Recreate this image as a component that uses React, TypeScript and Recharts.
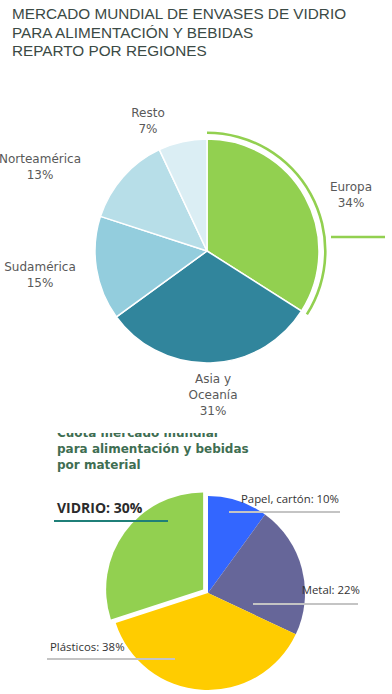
import React from 'react';
import { PieChart, Pie, Cell } from 'recharts';

// ---- Data ----
const regionNames = ['Europa', 'Asia y Oceanía', 'Sudamérica', 'Norteamérica', 'Resto'];
const regionShares = [34, 31, 15, 13, 7];

const materialNames = ['Papel, cartón', 'Metal', 'Plásticos', 'Vidrio'];
const materialShares = [10, 22, 38, 30];

const titleLines = [
  'MERCADO MUNDIAL DE ENVASES DE VIDRIO',
  'PARA ALIMENTACIÓN Y BEBIDAS',
  'REPARTO POR REGIONES',
];
const subtitleLines = ['Cuota mercado mundial', 'para alimentación y bebidas', 'por material'];

// ---- Styles ----
const regionColors = ['#92d050', '#31859c', '#93cddd', '#b7dee8', '#dbeef4'];
const materialColors = ['#3366ff', '#666699', '#ffcc00', '#92d050'];

const regionData = regionNames.map((name, i) => ({ name, value: regionShares[i] }));
const materialData = materialNames.map((name, i) => ({ name, value: materialShares[i] }));

// label layout relative to pie centre
const regionLabelLayout = [
  { dx: 144, dy: -60, lines: ['Europa'] },
  { dx: 6, dy: 132, lines: ['Asia y', 'Oceanía'] },
  { dx: -167, dy: 20, lines: ['Sudamérica'] },
  { dx: -167, dy: -88, lines: ['Norteamérica'] },
  { dx: -59, dy: -134, lines: ['Resto'] },
];

const materialLabelLayout = [
  { tx: 82, ty: -90, anchor: 'middle', lx0: 21, lx1: 132, ly: -81, lineColor: '#c4c4c4' },
  { tx: 152, ty: 1, anchor: 'end', lx0: 45, lx1: 150, ly: 11, lineColor: '#c4c4c4' },
  { tx: -158, ty: 58, anchor: 'start', lx0: -161, lx1: -33, ly: 66, lineColor: '#c4c4c4' },
  { tx: -151, ty: -80, anchor: 'start', lx0: -154, lx1: -40, ly: -72, lineColor: '#1f7f78', bold: true },
];

const TOP_CX = 207;
const TOP_CY = 251;
const TOP_R = 112;
const BOT_CX = 208;
const BOT_CY = 593;
const BOT_R = 97;
const EXPLODE = 6;

const regionFont = '"DejaVu Sans", sans-serif';
const materialFont = '"Open Sans", sans-serif';

const renderRegionLabel = (props: any) => {
  const { cx, cy, index, value } = props;
  const lay = regionLabelLayout[index];
  const x = cx + lay.dx;
  const y = cy + lay.dy;
  const lines = [...lay.lines, `${value}%`];
  return (
    <g key={`rl-${index}`}>
      {index === 0 && (
        <line x1={cx + 124} y1={cy - 14} x2={cx + 178} y2={cy - 14} stroke="#92d050" strokeWidth={2.6} />
      )}
      <text x={x} y={y} textAnchor="middle" fontFamily={regionFont} fontSize={12} fill="#595959">
        {lines.map((l, i) => (
          <tspan key={i} x={x} dy={i === 0 ? 0 : 16}>
            {l}
          </tspan>
        ))}
      </text>
    </g>
  );
};

const renderMaterialLabel = (props: any) => {
  const { cx, cy, index, name, value } = props;
  const lay = materialLabelLayout[index];
  const label = lay.bold ? `${String(name).toUpperCase()}: ${value}%` : `${name}: ${value}%`;
  return (
    <g key={`ml-${index}`}>
      <line
        x1={cx + lay.lx0}
        y1={cy + lay.ly}
        x2={cx + lay.lx1}
        y2={cy + lay.ly}
        stroke={lay.lineColor}
        strokeWidth={2}
      />
      <text
        x={cx + lay.tx}
        y={cy + lay.ty}
        textAnchor={lay.anchor as any}
        fontFamily={materialFont}
        fontSize={lay.bold ? 14 : 11.4}
        fontWeight={lay.bold ? 700 : 400}
        fill={lay.bold ? '#2b2b2b' : '#333333'}
      >
        {label}
      </text>
    </g>
  );
};

// explode offset for Vidrio computed from its mid angle
const total = materialShares.reduce((a, b) => a + b, 0);
const vidrioIdx = materialNames.indexOf('Vidrio');
const before = materialShares.slice(0, vidrioIdx).reduce((a, b) => a + b, 0);
const vidrioMid = 90 - ((before + materialShares[vidrioIdx] / 2) / total) * 360;
const vidDx = EXPLODE * Math.cos((vidrioMid * Math.PI) / 180);
const vidDy = -EXPLODE * Math.sin((vidrioMid * Math.PI) / 180);

const noMargin = { top: 0, right: 0, bottom: 0, left: 0 };

export default function App() {
  return (
    <div
      style={{
        position: 'absolute',
        left: 0,
        top: 0,
        width: 392,
        height: 694,
        background: '#ffffff',
        overflow: 'hidden',
      }}
    >
      <svg width={392} height={694} style={{ position: 'absolute', left: 0, top: 0 }}>
        <defs>
          <clipPath id="subclip">
            <rect x={0} y={433} width={392} height={300} />
          </clipPath>
        </defs>
        {titleLines.map((t, i) => (
          <text
            key={i}
            x={12}
            y={19 + i * 18.5}
            fontFamily='"Liberation Sans", Arial, sans-serif'
            fontSize={15.3}
            fill="#3b4a45"
          >
            {t}
          </text>
        ))}
        <g clipPath="url(#subclip)">
          {subtitleLines.map((t, i) => (
            <text
              key={i}
              x={57}
              y={437 + i * 16}
              fontFamily='"DejaVu Sans", Verdana, sans-serif'
              fontSize={12}
              fontWeight={700}
              fill="#3f6e52"
            >
              {t}
            </text>
          ))}
        </g>
      </svg>

      <div style={{ position: 'absolute', left: 0, top: 0 }}>
        <PieChart width={392} height={694} margin={noMargin}>
          <Pie
            data={regionData}
            dataKey="value"
            nameKey="name"
            cx={TOP_CX}
            cy={TOP_CY}
            outerRadius={TOP_R}
            startAngle={90}
            endAngle={-270}
            stroke="#ffffff"
            strokeWidth={1.5}
            label={renderRegionLabel}
            labelLine={false}
            isAnimationActive={false}
          >
            {regionData.map((d, i) => (
              <Cell key={d.name} fill={regionColors[i]} />
            ))}
          </Pie>
          <Pie
            data={regionData}
            dataKey="value"
            nameKey="name"
            cx={TOP_CX}
            cy={TOP_CY}
            innerRadius={117}
            outerRadius={119.6}
            startAngle={90}
            endAngle={-270}
            stroke="none"
            isAnimationActive={false}
          >
            {regionData.map((d, i) => (
              <Cell key={d.name} fill={i === 0 ? '#92d050' : 'none'} />
            ))}
          </Pie>

          <Pie
            data={materialData}
            dataKey="value"
            nameKey="name"
            cx={BOT_CX}
            cy={BOT_CY}
            outerRadius={BOT_R}
            startAngle={90}
            endAngle={-270}
            stroke="none"
            label={renderMaterialLabel}
            labelLine={false}
            isAnimationActive={false}
          >
            {materialData.map((d, i) => (
              <Cell key={d.name} fill={i === vidrioIdx ? 'none' : materialColors[i]} />
            ))}
          </Pie>
          <Pie
            data={materialData}
            dataKey="value"
            nameKey="name"
            cx={BOT_CX + vidDx}
            cy={BOT_CY + vidDy}
            outerRadius={BOT_R}
            startAngle={90}
            endAngle={-270}
            stroke="none"
            isAnimationActive={false}
          >
            {materialData.map((d, i) => (
              <Cell key={d.name} fill={i === vidrioIdx ? materialColors[i] : 'none'} />
            ))}
          </Pie>
        </PieChart>
      </div>
    </div>
  );
}
